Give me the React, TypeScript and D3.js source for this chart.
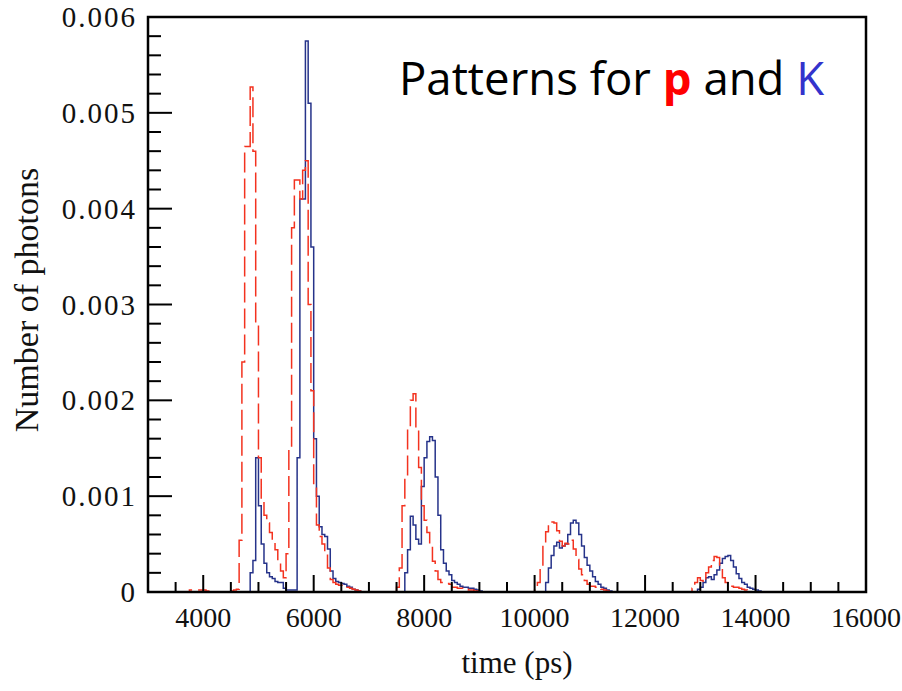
import React from "react";
import * as d3 from "d3";

// Histogram binning (ps)
const timeStart = 3000;
const binWidth = 50;

const xDomain = [3000, 16000];
const yDomain = [0, 0.006];
const xTickValues = [4000, 6000, 8000, 10000, 12000, 14000, 16000];
const xTickLabels = ["4000", "6000", "8000", "10000", "12000", "14000", "16000"];
const yTickValues = [0, 0.001, 0.002, 0.003, 0.004, 0.005, 0.006];
const yTickLabels = ["0", "0.001", "0.002", "0.003", "0.004", "0.005", "0.006"];

// proton (p) histogram, 50 ps bins from 3000 ps
const protonCounts = [
  0, 0, 0, 0, 0, 0, 0, 0, 0, 0, 0, 0, 0, 0, 0, 0.00002, 0.00002, 0.00002, 0.00002, 0.00002,
  0.00002, 0.00001, 0, 0, 0, 0, 0, 0, 0, 0, 0.00001, 0.00002, 0.00003, 0.00054, 0.0024, 0.00465, 0.00465, 0.00527, 0.0046, 0.0028,
  0.0014, 0.00094, 0.0008, 0.00072, 0.00062, 0.00052, 0.00044, 0.0003, 0.00022, 0.00015, 0.0004, 0.0015, 0.0038, 0.0043, 0.0043, 0.0041, 0.0044, 0.0045, 0.003, 0.0021,
  0.0011, 0.0007, 0.00058, 0.0005, 0.00042, 0.00025, 0.00013, 0.0001, 0.00008, 0.00007, 0.00007, 0.00006, 0.00005, 0.00004, 0.00003, 0.00002, 0.00001, 0, 0, 0,
  0, 0, 0, 0, 0, 0, 0, 0, 0, 0, 0.00005, 0.00025, 0.0009, 0.0012, 0.0017, 0.002, 0.00207, 0.0017, 0.0013, 0.0009,
  0.00075, 0.00062, 0.00048, 0.00032, 0.00022, 0.00013, 0.0001, 0.0001, 0.00009, 0.00008, 0.00005, 0.00005, 0.00004, 0.00004, 0.00003, 0.00003, 0.00002, 0.00002, 0.00001, 0.00001,
  0, 0, 0, 0, 0, 0, 0, 0, 0, 0, 0, 0, 0, 0, 0, 0, 0, 0, 0, 0,
  0.00002, 0.0001, 0.00025, 0.0005, 0.00063, 0.0007, 0.00073, 0.00072, 0.00064, 0.00053, 0.00048, 0.00051, 0.0005, 0.00054, 0.00045, 0.00034, 0.00024, 0.00018, 0.00012, 0.00008,
  0.00006, 0.00006, 0.00005, 0.00004, 0.00003, 0.00002, 0.00001, 0, 0, 0, 0, 0, 0, 0, 0, 0, 0, 0, 0, 0,
  0, 0, 0, 0, 0, 0, 0, 0, 0, 0, 0, 0, 0, 0, 0, 0, 0, 0.00004, 0.0001, 0.00015,
  0.00012, 0.0001, 0.0002, 0.00026, 0.00033, 0.00037, 0.00036, 0.00025, 0.00015, 0.0001, 0.00008, 0.00006, 0.00005, 0.00005, 0.00004, 0.00003, 0.00002, 0.00001, 0, 0,
  0, 0, 0, 0, 0, 0, 0, 0, 0, 0, 0, 0, 0, 0, 0, 0, 0, 0, 0, 0,
  0, 0, 0, 0, 0, 0, 0, 0, 0, 0, 0, 0, 0, 0, 0, 0, 0, 0, 0, 0,
];

// kaon (K) histogram, 50 ps bins from 3000 ps
const kaonCounts = [
  0, 0, 0, 0, 0, 0, 0, 0, 0, 0, 0, 0, 0, 0, 0, 0, 0, 0, 0, 0,
  0, 0, 0, 0, 0, 0, 0, 0, 0, 0, 0, 0, 0, 0, 0, 0, 0, 0.0002, 0.00033, 0.0014,
  0.0009, 0.0005, 0.0003, 0.0002, 0.00016, 0.00014, 0.00011, 0.0001, 0.0001, 0.00004, 0.00002, 0.00002, 0.00002, 0.00002, 0.0014, 0.0041, 0.0041, 0.00575, 0.0051, 0.0036,
  0.0016, 0.001, 0.00068, 0.0006, 0.00058, 0.00045, 0.00022, 0.00014, 0.00011, 0.0001, 0.00009, 0.00008, 0.00006, 0.00005, 0.00003, 0.00002, 0.00001, 0, 0, 0,
  0, 0, 0, 0, 0, 0, 0, 0, 0, 0, 0, 0, 0, 0.0002, 0.00044, 0.00079, 0.0007, 0.00055, 0.0005, 0.0011,
  0.0014, 0.00157, 0.00162, 0.00158, 0.0012, 0.0008, 0.00044, 0.0003, 0.00022, 0.00018, 0.00012, 0.0001, 0.00008, 0.00006, 0.00005, 0.00005, 0.00004, 0.00004, 0.00003, 0.00002,
  0.00001, 0, 0, 0, 0, 0, 0, 0, 0, 0, 0, 0, 0, 0, 0, 0, 0, 0, 0, 0,
  0, 0, 0, 0, 0.0001, 0.00025, 0.00038, 0.00048, 0.00052, 0.00046, 0.00048, 0.0005, 0.0006, 0.00072, 0.00075, 0.00072, 0.0006, 0.00048, 0.00036, 0.00028,
  0.00022, 0.00016, 0.00011, 0.00008, 0.00005, 0.00004, 0.00002, 0.00001, 0, 0, 0, 0, 0, 0, 0, 0, 0, 0, 0, 0,
  0, 0, 0, 0, 0, 0, 0, 0, 0, 0, 0, 0, 0, 0, 0, 0, 0, 0, 0, 0.00003,
  0.00005, 0.0001, 0.00015, 0.00016, 0.00013, 0.00018, 0.00023, 0.0003, 0.00035, 0.00037, 0.00038, 0.00033, 0.00026, 0.00019, 0.00014, 0.0001, 0.00008, 0.00005, 0.00004, 0.00003,
  0.00002, 0.00001, 0, 0, 0, 0, 0, 0, 0, 0, 0, 0, 0, 0, 0, 0, 0, 0, 0, 0,
  0, 0, 0, 0, 0, 0, 0, 0, 0, 0, 0, 0, 0, 0, 0, 0, 0, 0, 0, 0,
];

export default function App() {
  const W = 902;
  const H = 691;
  const left = 148;
  const right = 866;
  const top = 17;
  const bottom = 592;

  const x = d3.scaleLinear().domain(xDomain).range([left, right]);
  const y = d3.scaleLinear().domain(yDomain).range([bottom, top]);

  const toPoints = (vals: number[]) => {
    const pts: [number, number][] = vals.map((v, i) => [timeStart + i * binWidth, v]);
    pts.push([timeStart + vals.length * binWidth, vals[vals.length - 1]]);
    return pts;
  };
  const line = d3
    .line<[number, number]>()
    .x((d) => x(d[0]))
    .y((d) => y(d[1]))
    .curve(d3.curveStepAfter);

  const xMinor = d3.range(3500, 16000, 500).filter((v) => v % 2000 !== 0);
  const yMinor = d3
    .range(1, 30)
    .map((i) => i * 0.0002)
    .filter((v) => Math.abs(v * 1000 - Math.round(v * 1000)) > 1e-6);

  const serif = "'Liberation Serif', 'Times New Roman', serif";

  return (
    <svg width={W} height={H} style={{ position: "absolute", left: 0, top: 0, background: "#fff" }}>
      <rect x={0} y={0} width={W} height={H} fill="#fff" />
      <defs>
        <clipPath id="plotclip">
          <rect x={left} y={top - 5} width={right - left} height={bottom - top + 5} />
        </clipPath>
      </defs>

      <g clipPath="url(#plotclip)">
        <path d={line(toPoints(kaonCounts)) || ""} fill="none" stroke="#26338a" strokeWidth={1.5} />
        <path
          d={line(toPoints(protonCounts)) || ""}
          fill="none"
          stroke="#f3321f"
          strokeWidth={1.5}
          strokeDasharray="20,6"
        />
      </g>

      {/* ticks */}
      <g stroke="#000" strokeWidth={2}>
        {xTickValues.map((v) => (
          <line key={"xM" + v} x1={x(v)} x2={x(v)} y1={bottom} y2={bottom - 17} />
        ))}
        {xMinor.map((v) => (
          <line key={"xm" + v} x1={x(v)} x2={x(v)} y1={bottom} y2={bottom - 10} />
        ))}
        {yTickValues.map((v) => (
          <line key={"yM" + v} x1={left} x2={left + 24} y1={y(v)} y2={y(v)} />
        ))}
        {yMinor.map((v) => (
          <line key={"ym" + v} x1={left} x2={left + 13} y1={y(v)} y2={y(v)} />
        ))}
      </g>

      {/* frame */}
      <rect x={left} y={top} width={right - left} height={bottom - top} fill="none" stroke="#000" strokeWidth={2.5} />

      {/* tick labels */}
      <g fontFamily={serif} fontSize={28} fill="#111">
        {xTickValues.map((v, i) => (
          <text key={"xl" + v} x={x(v)} y={627} textAnchor="middle">
            {xTickLabels[i]}
          </text>
        ))}
      </g>
      <g fontFamily={serif} fontSize={29} fill="#111" letterSpacing={2}>
        {yTickValues.map((v, i) => (
          <text key={"yl" + v} x={137} y={y(v)} dy="0.35em" textAnchor="end">
            {yTickLabels[i]}
          </text>
        ))}
      </g>

      {/* axis titles */}
      <text x={517} y={673} textAnchor="middle" fontFamily={serif} fontSize={31} fill="#111">
        time (ps)
      </text>
      <text
        transform={`translate(38, 300) rotate(-90)`}
        textAnchor="middle"
        fontFamily={serif}
        fontSize={34}
        fill="#111"
      >
        Number of photons
      </text>

      {/* annotation */}
      <text x={399} y={95} fontFamily="'Open Sans', 'DejaVu Sans', sans-serif" fontSize={45.5} fill="#000">
        Patterns for{" "}
        <tspan fill="#ff0000" fontWeight="bold">p</tspan>
        {" "}and{" "}
        <tspan fill="#3333cc">K</tspan>
      </text>
    </svg>
  );
}
